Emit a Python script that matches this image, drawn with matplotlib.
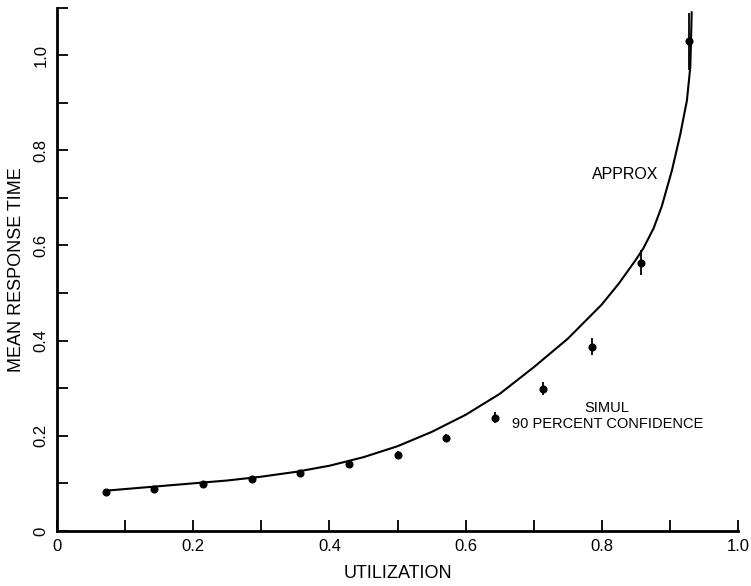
import numpy as np
import matplotlib.pyplot as plt

plt.rcParams['font.family'] = ['Liberation Sans', 'DejaVu Sans']

# simulation points (utilization, mean response time, half-width of 90% interval)
sim_x = [1/14, 2/14, 3/14, 4/14, 5/14, 6/14, 7/14, 8/14, 9/14, 10/14, 11/14, 12/14, 13/14]
sim_y = [0.082, 0.088, 0.099, 0.109, 0.122, 0.141, 0.160, 0.196, 0.238, 0.299, 0.387, 0.564, 1.029]
sim_err = [0.004, 0.004, 0.005, 0.005, 0.006, 0.006, 0.007, 0.007, 0.012, 0.013, 0.018, 0.027, 0.06]

# approximation curve
approx_x = [0.075, 0.1, 0.15, 0.2, 0.25, 0.3, 0.35, 0.4, 0.45, 0.5, 0.55, 0.6, 0.65,
            0.7, 0.75, 0.8, 0.825, 0.85, 0.861, 0.876, 0.888, 0.903, 0.915, 0.925,
            0.93, 0.932]
approx_y = [0.085, 0.088, 0.094, 0.100, 0.106, 0.114, 0.124, 0.137, 0.155, 0.178, 0.208,
            0.244, 0.288, 0.344, 0.404, 0.476, 0.520, 0.570, 0.594, 0.636, 0.682, 0.758,
            0.832, 0.905, 0.976, 1.09]

fig = plt.figure(figsize=(7.51, 5.86), dpi=100)
ax = fig.add_axes([0.0759, 0.094, 0.9068, 0.893])

ax.plot(approx_x, approx_y, color='black', lw=1.5)
ax.errorbar(sim_x, sim_y, yerr=sim_err, fmt='o', color='black', ms=4.8,
            elinewidth=1.3, capsize=0)

ax.text(0.835, 0.75, 'APPROX', ha='center', va='center', fontsize=11.5)
ax.text(0.808, 0.259, 'SIMUL', ha='center', va='center', fontsize=10.5)
ax.text(0.808, 0.225, '90 PERCENT CONFIDENCE', ha='center', va='center', fontsize=10.5)

ax.set_xlim(0, 1.0)
ax.set_ylim(0, 1.1)
ax.set_xticks(np.arange(0, 1.01, 0.1))
ax.set_xticklabels(['0', '', '0.2', '', '0.4', '', '0.6', '', '0.8', '', '1.0'])
ax.set_yticks(np.arange(0, 1.11, 0.1))
ax.set_yticklabels(['0', '', '0.2', '', '0.4', '', '0.6', '', '0.8', '', '1.0', ''],
                   rotation=90, va='center')
ax.tick_params(direction='in', length=8, width=1.3, labelsize=12, pad=6)

for s in ['top', 'right']:
    ax.spines[s].set_visible(False)
for s in ['left', 'bottom']:
    ax.spines[s].set_linewidth(2)

ax.set_xlabel('UTILIZATION', fontsize=13, labelpad=8)
ax.set_ylabel('MEAN RESPONSE TIME', fontsize=13, labelpad=6)

fig.savefig('out.png', dpi=100)
